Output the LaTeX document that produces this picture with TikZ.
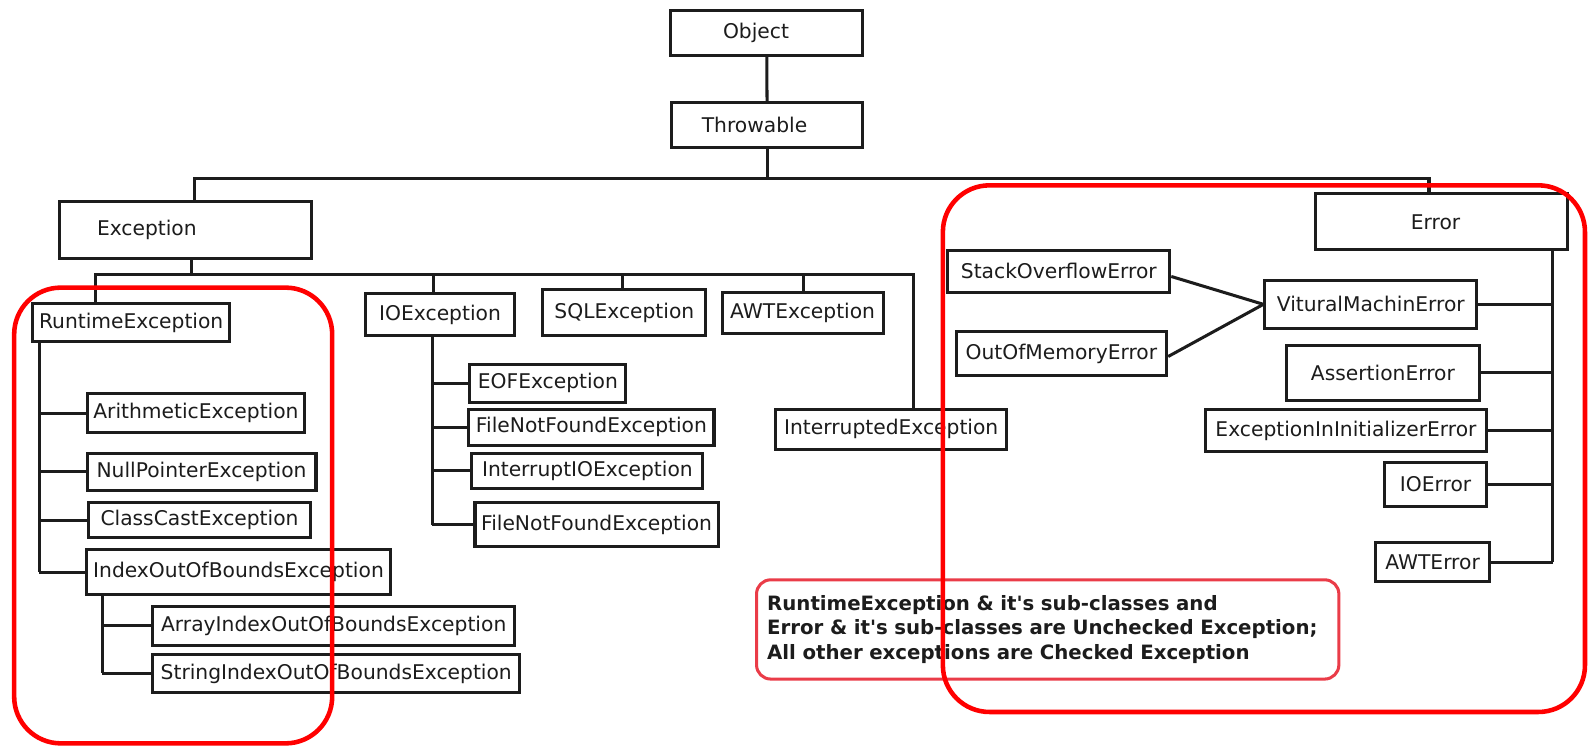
\documentclass[tikz,border=0pt]{standalone}
\usepackage{fontspec}
\setmainfont{DejaVu Sans}
\definecolor{ink}{RGB}{28,28,28}
\definecolor{notered}{RGB}{234,60,72}
\begin{document}
\begin{tikzpicture}[x=1pt,y=-1pt,
  box/.style={draw=ink, line width=3pt, inner sep=0pt, fill=white,
    font=\fontsize{20}{24}\selectfont, text=ink},
  con/.style={draw=ink, line width=3pt},
  bigred/.style={draw=red, line width=4.5pt, rounded corners=46pt},
  notebox/.style={draw=notered, line width=3pt, rounded corners=14pt, inner sep=0pt,
    font=\bfseries\fontsize{19.5}{24}\selectfont, text=ink, align=left}]
\useasboundingbox (0,0) rectangle (1568,738);

% ---- boxes
\node[box, minimum width=190, minimum height=45] (obj) at (757,32.5) {\hspace*{-21pt}Object};
\node[box, minimum width=189, minimum height=45] (thr) at (757.5,123.5) {\hspace*{-25pt}Throwable};
\node[box, minimum width=249, minimum height=56] (exc) at (183.5,227) {\hspace*{-77pt}Exception};
\node[box, minimum width=249, minimum height=55] (err) at (1423.5,219) {\hspace*{-12pt}Error};

\node[box, minimum width=195, minimum height=37] (rt) at (129.5,318.5) {RuntimeException};
\node[box, minimum width=147, minimum height=41] (io) at (434.5,310.5) {IOException};
\node[box, minimum width=161, minimum height=45] (sql) at (616.5,308.5) {SQLException};
\node[box, minimum width=159, minimum height=40] (awt) at (792.5,309) {AWTException};
\node[box, minimum width=228, minimum height=40] (ie) at (880,424) {InterruptedException};

\node[box, minimum width=154, minimum height=37] (eof) at (541,378.5) {EOFException};
\node[box, minimum width=242, minimum height=36] (fnf) at (584,422) {FileNotFoundException};
\node[box, minimum width=228, minimum height=34] (iio) at (580,465) {InterruptIOException};
\node[box, minimum width=240, minimum height=44] (fnfb) at (589,518) {FileNotFoundException};

\node[box, minimum width=215, minimum height=38] (ae) at (193.5,408) {ArithmeticException};
\node[box, minimum width=226, minimum height=36] (npe) at (199,466) {NullPointerException};
\node[box, minimum width=220, minimum height=35] (cce) at (197,513.5) {ClassCastException};
\node[box, minimum width=301, minimum height=44] (ioob) at (235.5,565) {IndexOutOfBoundsException};
\node[box, minimum width=357, minimum height=38] (aioob) at (329.5,618) {ArrayIndexOutOfBoundsException};
\node[box, minimum width=362, minimum height=38] (sioob) at (332,665) {StringIndexOutOfBoundsException};

\node[box, minimum width=219, minimum height=42] (so) at (1045.5,268) {StackOverflowError};
\node[box, minimum width=208, minimum height=44] (oom) at (1048,349) {OutOfMemoryError};
\node[box, minimum width=209, minimum height=47] (vm) at (1353.5,300.5) {VituralMachinError};
\node[box, minimum width=191, minimum height=54] (ase) at (1365.5,368) {AssertionError};
\node[box, minimum width=278, minimum height=42] (eiie) at (1329,425) {ExceptionInInitializerError};
\node[box, minimum width=101, minimum height=43] (ioe) at (1417.5,478.5) {IOError};
\node[box, minimum width=113, minimum height=38] (awte) at (1414.5,555) {AWTError};

% ---- connector coordinates
\coordinate (busL) at (192,176);
\coordinate (busR) at (1411,176);
\coordinate (eb) at (189,271);
\coordinate (x1) at (94,271);
\coordinate (x2) at (428,271);
\coordinate (x3) at (615,271);
\coordinate (x4) at (793,271);
\coordinate (x5) at (902,271);
\coordinate (rv) at (39,0);
\coordinate (iv) at (101,0);
\coordinate (iov) at (427,0);
\coordinate (ev) at (1533,0);

% ---- connectors
\draw[con] (obj) -- (thr);
\draw[con] (thr.south) -- (thr.south |- busL);
\draw[con] (busL |- exc.north) -- (busL) -- (busR) -- (busR |- err.north);
\draw[con] (eb |- exc.south) -- (eb);
\draw[con] (x1 |- rt.north) -- (x1) -- (x5) -- (x5 |- ie.north);
\draw[con] (x2) -- (x2 |- io.north);
\draw[con] (x3) -- (x3 |- sql.north);
\draw[con] (x4) -- (x4 |- awt.north);

\draw[con] (rv |- rt.south) -- (rv |- ioob.west);
\foreach \n in {ae,npe,cce,ioob} \draw[con] (\n.west) -- (\n.west -| rv);
\draw[con] (iv |- ioob.south) -- (iv |- sioob.west);
\foreach \n in {aioob,sioob} \draw[con] (\n.west) -- (\n.west -| iv);

\draw[con] (iov |- io.south) -- (iov |- fnfb.west);
\foreach \n in {eof,fnf,iio,fnfb} \draw[con] (\n.west) -- (\n.west -| iov);

\draw[con] (ev |- err.south) -- (ev |- awte.east);
\foreach \n in {vm,ase,eiie,ioe,awte} \draw[con] (\n.east) -- (\n.east -| ev);
\draw[con] ([yshift=-5pt]so.east) -- (vm.west);
\draw[con] ([yshift=-3pt]oom.east) -- (vm.west);

% ---- note
\node[notebox, minimum width=575, minimum height=98, text width=554, anchor=north west] (note) at (745.5,571)
  {RuntimeException \& it\textquotesingle s sub-classes and\\Error \& it\textquotesingle s sub-classes are Unchecked Exception;\\All other exceptions are Checked Exception};

% ---- red frames
\draw[bigred] (14,284) rectangle (328,734);
\draw[bigred] (931,183) rectangle (1565,703);
\end{tikzpicture}
\end{document}
